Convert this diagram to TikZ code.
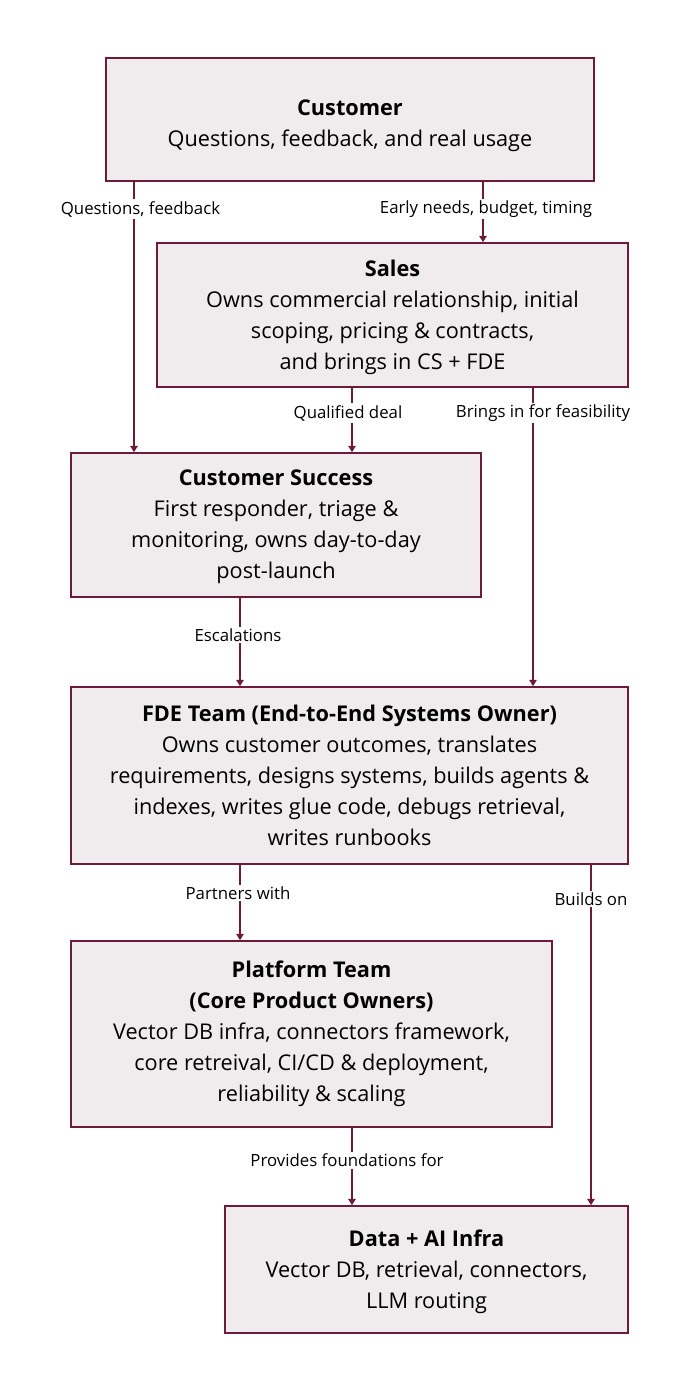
\documentclass[tikz,border=0pt]{standalone}
\usepackage{fontspec}
\setmainfont{Open Sans}
\usetikzlibrary{arrows.meta}
\definecolor{maroon}{HTML}{6E1A3A}
\definecolor{boxfill}{HTML}{F0ECEE}
\begin{document}
\begin{tikzpicture}[x=1pt,y=-1pt,
  box/.style={draw=maroon, fill=boxfill, line width=1.5pt, inner sep=0pt, align=center,
    font=\fontsize{21.7}{31}\selectfont, text=black},
  boxtext/.style={inner sep=0pt, align=center, font=\fontsize{21.7}{31}\selectfont, text=black},
  conn/.style={draw=maroon, line width=1.5pt, -{Triangle[width=7.5pt,length=6.5pt]}},
  lbl/.style={fill=white, inner sep=2pt, font=\fontsize{16.8}{19}\selectfont, text=black}]
\useasboundingbox (0,0) rectangle (700,1400);
\node[box, minimum width=488pt, minimum height=123pt] (cust) at (350,119.5) {};
\node[boxtext, yshift=-6pt] (custt) at (cust.center)
  {\textbf{Customer}\\Questions, feedback, and real usage};
\node[box, minimum width=471pt, minimum height=144pt] (sales) at (392.5,315) {};
\node[boxtext, yshift=-2pt] (salest) at (sales.center)
  {\textbf{Sales}\\Owns commercial relationship, initial\\scoping, pricing \& contracts,\\and brings in CS + FDE};
\node[box, minimum width=410pt, minimum height=144pt] (cs) at (276,525) {};
\node[boxtext, yshift=-1.5pt] (cst) at (cs.center)
  {\textbf{Customer Success}\\First responder, triage \&\\monitoring, owns day-to-day\\post-launch};
\node[box, minimum width=557pt, minimum height=177pt] (fde) at (349.5,775.5)
  {\textbf{FDE Team (End-to-End Systems Owner)}\\Owns customer outcomes, translates\\requirements, designs systems, builds agents \&\\indexes, writes glue code, debugs retrieval,\\writes runbooks};
\node[box, minimum width=481pt, minimum height=186pt] (plat) at (311.5,1034)
  {\textbf{Platform Team}\\\textbf{(Core Product Owners)}\\Vector DB infra, connectors framework,\\core retreival, CI/CD \& deployment,\\reliability \& scaling};
\node[box, minimum width=403pt, minimum height=127pt] (data) at (426.5,1269.5) {};
\node[boxtext, yshift=-2.5pt] (datat) at (data.center)
  {\textbf{Data + AI Infra}\\Vector DB, retrieval, connectors,\\LLM routing};
\coordinate (xa) at (134,0);
\coordinate (xb) at (483,0);
\coordinate (xc) at (352,0);
\coordinate (xd) at (533,0);
\coordinate (xe) at (240,0);
\coordinate (xf) at (591,0);
\draw[conn] (cust.south -| xa) -- (cs.north -| xa);
\draw[conn] (cust.south -| xb) -- (sales.north -| xb);
\draw[conn] (sales.south -| xc) -- (cs.north -| xc);
\draw[conn] (sales.south -| xd) -- (fde.north -| xd);
\draw[conn] (cs.south -| xe) -- (fde.north -| xe);
\draw[conn] (fde.south -| xe) -- (plat.north -| xe);
\draw[conn] (fde.south -| xf) -- (data.north -| xf);
\draw[conn] (plat.south -| xc) -- (data.north -| xc);
\node[lbl] (l1) at (140.5,209) {Questions, feedback};
\node[lbl] (l2) at (486,209) {Early needs, budget, timing};
\node[lbl] (l3) at (348,413) {Qualified deal};
\node[lbl] (l4) at (543,413) {Brings in for feasibility};
\node[lbl] (l5) at (238,635) {Escalations};
\node[lbl] (l6) at (238,893) {Partners with};
\node[lbl] (l7) at (591,899) {Builds on};
\node[lbl] (l8) at (347,1160) {Provides foundations for};
\end{tikzpicture}
\end{document}
